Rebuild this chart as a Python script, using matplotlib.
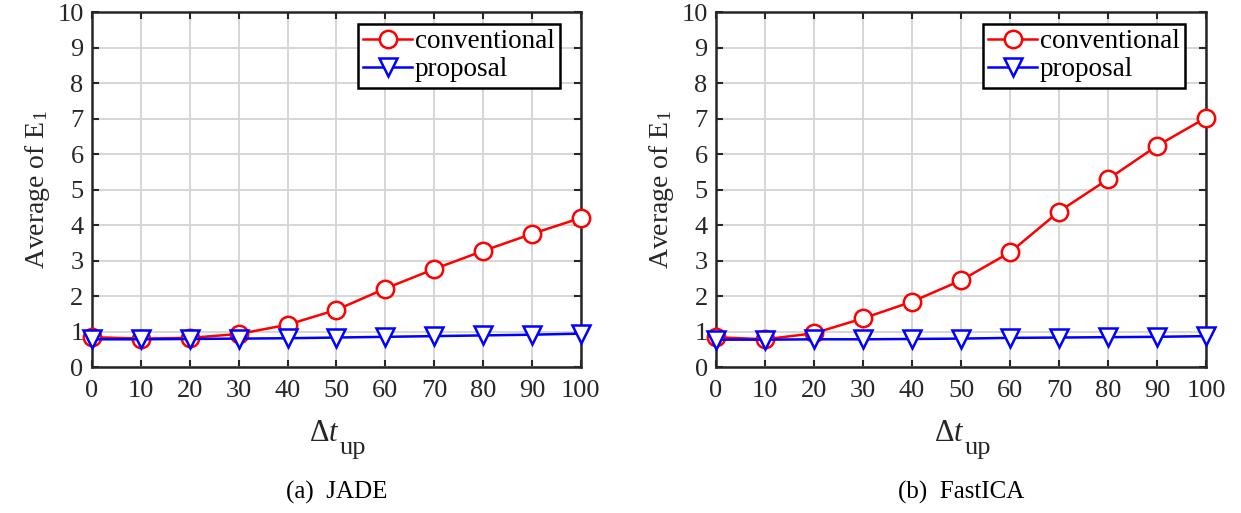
import numpy as np
import matplotlib
matplotlib.use("Agg")
import matplotlib.pyplot as plt

plt.rcParams["font.family"] = ["Liberation Serif", "DejaVu Serif"]
plt.rcParams["mathtext.fontset"] = "custom"
plt.rcParams["mathtext.rm"] = "Liberation Serif"
plt.rcParams["mathtext.it"] = "Liberation Serif:italic"

dt_up = [0, 10, 20, 30, 40, 50, 60, 70, 80, 90, 100]
jade_conventional = [0.84, 0.80, 0.82, 0.93, 1.19, 1.61, 2.21, 2.76, 3.27, 3.75, 4.20]
jade_proposal = [0.78, 0.78, 0.79, 0.80, 0.81, 0.83, 0.85, 0.87, 0.89, 0.91, 0.94]
fastica_conventional = [0.84, 0.78, 0.95, 1.37, 1.84, 2.44, 3.23, 4.38, 5.29, 6.23, 7.02]
fastica_proposal = [0.77, 0.77, 0.78, 0.78, 0.79, 0.80, 0.82, 0.83, 0.84, 0.85, 0.87]
captions = ["(a)  JADE", "(b)  FastICA"]

dark = "#262626"
fs = 19

fig = plt.figure(figsize=(12.41, 5.13), dpi=100)
ax1 = fig.add_axes([0.0741, 0.2846, 0.3940, 0.692])
ax2 = fig.add_axes([0.5770, 0.2846, 0.3948, 0.692])

panels = [(ax1, jade_conventional, jade_proposal),
          (ax2, fastica_conventional, fastica_proposal)]

for ax, conv, prop in panels:
    ax.plot(dt_up, conv, color="red", marker="o", markersize=12.5,
            markerfacecolor="white", markeredgewidth=1.8, linewidth=1.8,
            label="conventional", clip_on=False, zorder=3)
    ax.plot(dt_up, prop, color="blue", marker="v", markersize=13,
            markerfacecolor="white", markeredgewidth=1.8, linewidth=1.8,
            label="proposal", clip_on=False, zorder=4)

    ax.set_xlim(0, 100)
    ax.set_ylim(0, 10)
    ax.set_xticks(dt_up)
    ax.set_yticks(range(0, 11))
    ax.grid(True, color="#d6d6d6", linewidth=1.4)
    ax.set_axisbelow(True)
    ax.tick_params(direction="in", length=5, width=1.5, colors=dark,
                   labelsize=fs, top=True, right=True)
    ax.tick_params(axis="x", pad=9)
    ax.tick_params(axis="y", pad=6)
    for s in ax.spines.values():
        s.set_color(dark)
        s.set_linewidth(1.8)

    # x label: delta t with a low subscript, like the original
    ax.text(0.476, -0.186, r"$\Delta t$", transform=ax.transAxes,
            ha="center", va="center", fontsize=fs + 3, color=dark)
    ax.text(0.534, -0.228, "up", transform=ax.transAxes,
            ha="center", va="center", fontsize=fs, color=dark)
    ax.set_ylabel(r"Average of E$_1$", fontsize=fs + 1, color=dark, labelpad=4)

    leg = ax.legend(loc="upper right", bbox_to_anchor=(0.957, 0.966),
                    borderaxespad=0, fontsize=fs + 0.5, fancybox=False,
                    edgecolor="black", framealpha=1, handlelength=1.8,
                    handletextpad=0.1, borderpad=0.2, labelspacing=0.1)
    leg.get_frame().set_linewidth(1.8)

for ax, cap in zip([ax1, ax2], captions):
    pos = ax.get_position()
    fig.text(pos.x0 + pos.width / 2, 0.041, cap, ha="center", va="center",
             fontsize=fs - 1)

fig.savefig("out.png", dpi=100)
